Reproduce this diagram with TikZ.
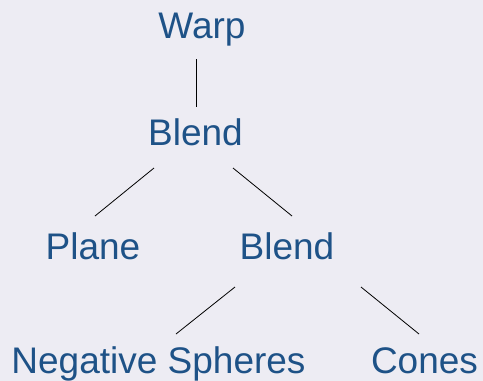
\documentclass[tikz,border=0pt]{standalone}
\usepackage{fontspec}
\setmainfont{Liberation Sans}
\definecolor{bgc}{HTML}{EDECF3}
\definecolor{txt}{HTML}{1E5287}
\begin{document}
\begin{tikzpicture}[x=1pt,y=-1pt,
  lbl/.style={anchor=base,inner sep=0pt,text=txt,font=\fontsize{37}{44}\selectfont},
  edge/.style={draw=black,line width=0.8pt}]
\fill[bgc] (0,0) rectangle (483,381);
\useasboundingbox (0,0) rectangle (483,381);
\node[lbl] (warp) at (202,38) {Warp};
\node[lbl] (b1) at (195.5,145) {Blend};
\node[lbl] (plane) at (93,259) {Plane};
\node[lbl] (b2) at (287,259) {Blend};
\node[lbl] (neg) at (158.5,373) {Negative Spheres};
\node[lbl] (cones) at (424.5,373) {Cones};
\draw[edge] ([shift={(-5.3,21)}]warp.base) -- ([shift={(1.2,-38)}]b1.base);
\draw[edge] ([shift={(-41.5,23)}]b1.base) -- ([shift={(2,-43)}]plane.base);
\draw[edge] ([shift={(37.5,23)}]b1.base) -- ([shift={(5,-43)}]b2.base);
\draw[edge] ([shift={(-52,28)}]b2.base) -- ([shift={(17.5,-39)}]neg.base);
\draw[edge] ([shift={(74,28)}]b2.base) -- ([shift={(-5.5,-39)}]cones.base);
\end{tikzpicture}
\end{document}
